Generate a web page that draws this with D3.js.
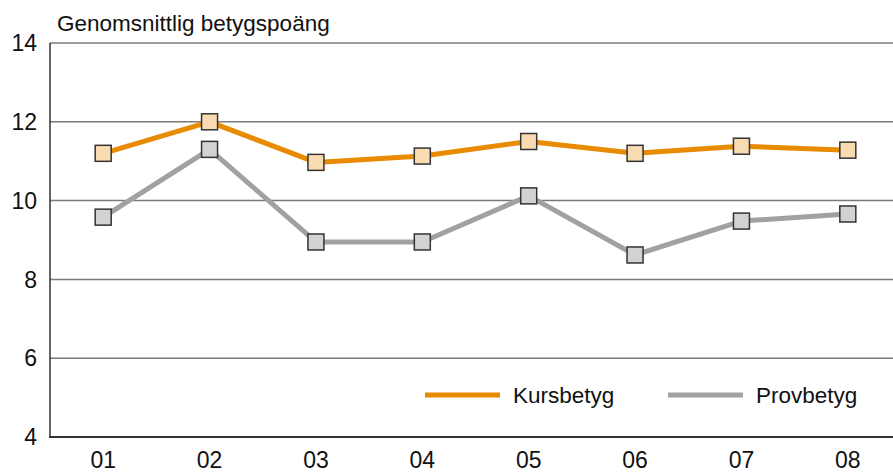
<!DOCTYPE html>
<html>
<head>
<meta charset="utf-8">
<script src="https://cdn.jsdelivr.net/npm/d3@7"></script>
<style>
  body { margin: 0; background: #fff; }
  svg text { font-family: "Liberation Sans", Arial, sans-serif; fill: #111; }
</style>
</head>
<body>
<div id="chart"></div>
<script>
// Data
const years = ['01', '02', '03', '04', '05', '06', '07', '08'];
const kursbetyg = [11.2, 12.0, 10.97, 11.13, 11.5, 11.2, 11.38, 11.28];
const provbetyg = [9.58, 11.3, 8.95, 8.95, 10.12, 8.62, 9.48, 9.66];
const yTicks = [4, 6, 8, 10, 12, 14];

const series = [
  { name: 'Kursbetyg', values: kursbetyg, line: '#e98b00', fill: '#f9dbb2' },
  { name: 'Provbetyg', values: provbetyg, line: '#a1a1a1', fill: '#d1d2d4' }
];

const width = 893, height = 474;
const margin = { top: 43, right: -8, bottom: 37, left: 50 };

const svg = d3.select('#chart').append('svg')
  .attr('width', width)
  .attr('height', height);

const x = d3.scaleBand()
  .domain(years)
  .range([margin.left, width - margin.right]);

const y = d3.scaleLinear()
  .domain([4, 14])
  .range([height - margin.bottom, margin.top]);

// gridlines
svg.append('g')
  .selectAll('line')
  .data(yTicks.filter(d => d > 4))
  .join('line')
  .attr('x1', margin.left)
  .attr('x2', width)
  .attr('y1', d => y(d))
  .attr('y2', d => y(d))
  .attr('stroke', '#7a7a7a')
  .attr('stroke-width', 1.5);

// y tick labels
svg.append('g')
  .selectAll('text')
  .data(yTicks)
  .join('text')
  .attr('x', 37)
  .attr('y', d => y(d))
  .attr('dy', '0.36em')
  .attr('text-anchor', 'end')
  .style('font-size', '23px')
  .text(d => d);

// x tick labels
svg.append('g')
  .selectAll('text')
  .data(years)
  .join('text')
  .attr('x', d => x(d) + x.bandwidth() / 2)
  .attr('y', 468)
  .attr('text-anchor', 'middle')
  .style('font-size', '23px')
  .text(d => d);

// axes lines
svg.append('line')
  .attr('x1', margin.left).attr('x2', margin.left)
  .attr('y1', y(14)).attr('y2', y(4))
  .attr('stroke', '#333').attr('stroke-width', 1.5);
svg.append('line')
  .attr('x1', margin.left - 1).attr('x2', width)
  .attr('y1', y(4)).attr('y2', y(4))
  .attr('stroke', '#333').attr('stroke-width', 2);

// title
svg.append('text')
  .attr('x', 57)
  .attr('y', 31)
  .style('font-size', '22.5px')
  .text('Genomsnittlig betygspoäng');

const line = d3.line()
  .x((d, i) => x(years[i]) + x.bandwidth() / 2)
  .y(d => y(d));

const markerSize = 16;
series.forEach(s => {
  svg.append('path')
    .datum(s.values)
    .attr('fill', 'none')
    .attr('stroke', s.line)
    .attr('stroke-width', 5)
    .attr('stroke-linejoin', 'round')
    .attr('d', line);

  svg.append('g')
    .selectAll('rect')
    .data(s.values)
    .join('rect')
    .attr('x', (d, i) => x(years[i]) + x.bandwidth() / 2 - markerSize / 2)
    .attr('y', d => y(d) - markerSize / 2)
    .attr('width', markerSize)
    .attr('height', markerSize)
    .attr('fill', s.fill)
    .attr('stroke', '#333')
    .attr('stroke-width', 1.5);
});

// legend
const legend = svg.append('g')
  .selectAll('g')
  .data(series)
  .join('g')
  .attr('transform', (d, i) => `translate(${425 + i * 243},395)`);

legend.append('line')
  .attr('x1', 0).attr('x2', 75)
  .attr('stroke', d => d.line)
  .attr('stroke-width', 5);

legend.append('text')
  .attr('x', 88)
  .attr('y', 8)
  .style('font-size', '22.5px')
  .text(d => d.name);
</script>
</body>
</html>
